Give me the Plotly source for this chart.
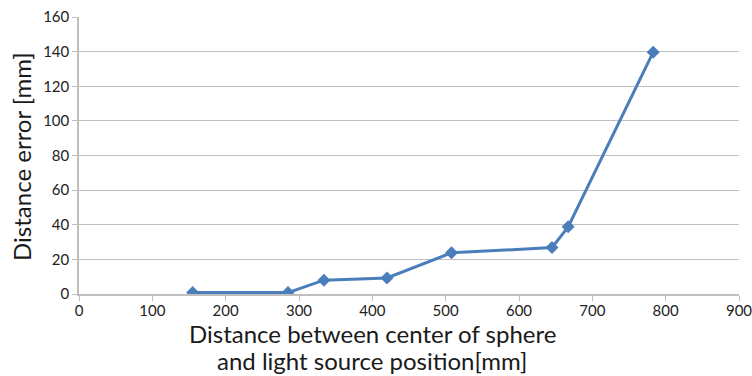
import plotly.graph_objects as go

distance = [155, 285, 334, 420, 508, 645, 667, 783]
error = [0.8, 0.8, 8, 9.3, 23.8, 26.8, 38.8, 139.7]

x_ticks = [0, 100, 200, 300, 400, 500, 600, 700, 800, 900]
y_ticks = [0, 20, 40, 60, 80, 100, 120, 140, 160]

x_title_lines = ["Distance between center of sphere", "and light source position[mm]"]
y_title = "Distance error [mm]"

fig = go.Figure()
fig.add_trace(go.Scatter(
    x=distance, y=error, mode="lines+markers",
    line=dict(color="#4A7EBB", width=3),
    marker=dict(symbol="diamond", size=10, color="#4A7EBB"),
    showlegend=False,
))

font_family = "Lato, Open Sans, DejaVu Sans, sans-serif"
title_font = dict(family=font_family, size=24, color="#1a1a1a")

fig.update_layout(
    width=752, height=376,
    margin=dict(l=79, r=13, t=17, b=81.5, autoexpand=False),
    plot_bgcolor="white", paper_bgcolor="white",
    font=dict(family=font_family, color="#222222"),
    xaxis=dict(
        range=[0, 900], tickvals=x_ticks, showgrid=False,
        showline=True, linecolor="#BFBFBF", linewidth=1.5,
        ticks="outside", ticklen=5, tickcolor="#BFBFBF",
        tickfont=dict(size=15), zeroline=False, automargin=False,
        ticklabeloverflow="allow", ticklabelstandoff=-3,
        fixedrange=True,
    ),
    yaxis=dict(
        range=[0, 160], tickvals=y_ticks, showgrid=True,
        gridcolor="#BFBFBF", gridwidth=1,
        showline=True, linecolor="#BFBFBF", linewidth=1.5,
        ticks="outside", ticklen=5, tickcolor="#BFBFBF",
        tickfont=dict(size=15), zeroline=False, automargin=False,
        ticklabeloverflow="allow",
        fixedrange=True,
    ),
    annotations=[
        dict(text=x_title_lines[0], xref="paper", yref="paper", x=0.444, y=-0.1423,
             xanchor="center", yanchor="middle", showarrow=False, font=title_font),
        dict(text=x_title_lines[1], xref="paper", yref="paper", x=0.444, y=-0.2396,
             xanchor="center", yanchor="middle", showarrow=False, font=title_font),
        dict(text=y_title, xref="paper", yref="paper", x=-0.0863, y=0.495,
             xanchor="center", yanchor="middle", showarrow=False, textangle=-90,
             font=title_font),
    ],
)
fig.write_html("out.html", config={"displayModeBar": False},
               post_script="document.body.style.margin='0';document.body.style.overflow='hidden';")
